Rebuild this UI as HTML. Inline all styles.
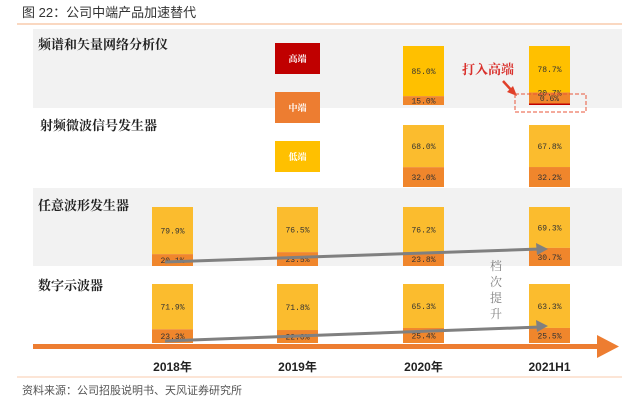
<!DOCTYPE html>
<html><head><meta charset="utf-8"><style>
html,body{margin:0;padding:0;background:#fff;}
svg{display:block;font-family:"Liberation Sans","Noto Sans CJK SC",sans-serif;}
</style></head><body>
<svg id="chart" width="622" height="409" viewBox="0 0 622 409" xmlns="http://www.w3.org/2000/svg">
<text x="22" y="17" font-size="13" fill="#333">图 22：公司中端产品加速替代</text>
<line x1="17" y1="24" x2="622" y2="24" stroke="#f4b183" stroke-width="1"/>
<rect x="33" y="29" width="589" height="79" fill="#f2f2f2"/>
<rect x="33" y="188" width="589" height="78" fill="#f2f2f2"/>
<g id="labels" font-family="'Noto Serif CJK SC','Liberation Serif',serif" font-size="13" font-weight="bold" fill="#222">
<text x="38" y="49">频谱和矢量网络分析仪</text>
<text x="40" y="130">射频微波信号发生器</text>
<text x="38" y="210">任意波形发生器</text>
<text x="38" y="290">数字示波器</text>
</g>
<g font-family="'Noto Serif CJK SC',serif" font-size="9" font-weight="bold" fill="#fff">
<rect x="275" y="43" width="45" height="31" fill="#c00000"/>
<text x="297.5" y="62" text-anchor="middle">高端</text>
<rect x="275" y="92" width="45" height="31" fill="#ed7d31"/>
<text x="297.5" y="111" text-anchor="middle">中端</text>
<rect x="275" y="141" width="45" height="31" fill="#ffc000"/>
<text x="297.5" y="160" text-anchor="middle">低端</text>
</g>
<g id="bars"></g>
<g id="axis"></g>
<line x1="165" y1="262" x2="540" y2="249" stroke="#808080" stroke-width="3"/>
<polygon points="548,249 536,243 537,255" fill="#808080"/>
<line x1="165" y1="341" x2="540" y2="327" stroke="#808080" stroke-width="3"/>
<polygon points="548,326 536,320 537,332" fill="#808080"/>
<g font-family="'Noto Serif CJK SC',serif" font-size="12" fill="#808080">
<text x="496" y="270" text-anchor="middle">档</text>
<text x="496" y="286" text-anchor="middle">次</text>
<text x="496" y="302" text-anchor="middle">提</text>
<text x="496" y="318" text-anchor="middle">升</text>
</g>
<text x="462" y="74" font-family="'Noto Serif CJK SC',serif" font-size="13" font-weight="bold" fill="#d9302c">打入高端</text>
<line x1="503" y1="81" x2="513" y2="92" stroke="#e0402a" stroke-width="2.5"/>
<polygon points="517,96 507,92 513,86" fill="#e0402a"/>
<rect x="515" y="94" width="71" height="18" fill="none" stroke="#e8553a" stroke-width="1" stroke-dasharray="4,2"/>
<line x1="17" y1="377" x2="622" y2="377" stroke="#f8cbad" stroke-width="1"/>
<text x="22" y="394" font-size="11" fill="#555">资料来源：公司招股说明书、天风证券研究所</text>
</svg>
<script>
const years = ['2018年','2019年','2020年','2021H1'];
const rows = ['频谱和矢量网络分析仪','射频微波信号发生器','任意波形发生器','数字示波器'];
const lowShare = [[null,null,85.0,78.7],[null,null,68.0,67.8],[79.9,76.5,76.2,69.3],[71.9,71.8,65.3,63.3]];
const midShare = [[null,null,15.0,20.7],[null,null,32.0,32.2],[20.1,23.5,23.8,30.7],[23.3,22.0,25.4,25.5]];
const highShare = [[null,null,0,0.6],[null,null,0,0],[0,0,0,0],[0,0,0,0]];
const rowBottom=[105,187,266,343], rowH=[59,62,59,59];
function xBand(i){return [152,277,403,529][i];}
const barW=41;
const NS='http://www.w3.org/2000/svg';
const g=document.getElementById('bars');
function mk(tag,attrs){const e=document.createElementNS(NS,tag);for(const k in attrs)e.setAttribute(k,attrs[k]);return e;}
function yScale(r,v){return v/100*rowH[r];}
for(let r=0;r<rows.length;r++){
 for(let c=0;c<years.length;c++){
  if(lowShare[r][c]==null)continue;
  const x=xBand(c), total=lowShare[r][c]+midShare[r][c]+highShare[r][c];
  let y=rowBottom[r];
  const hH=yScale(r,highShare[r][c]), mH=yScale(r,midShare[r][c]), lH=rowBottom[r]-rowH[r]-(y-hH-mH);
  const lowCol=r===0?'#ffc000':'#fbbc2e';
  const low=mk('rect',{x:x,y:rowBottom[r]-rowH[r],width:barW,height:rowH[r]-hH-mH,fill:lowCol});
  
  
  g.appendChild(low);
  const mid=mk('rect',{x:x,y:y-hH-mH,width:barW,height:mH,fill:'#f0862c'});
  
  
  g.appendChild(mid);
  if(hH>0){
   const hi=mk('rect',{x:x,y:y-Math.max(hH,1.5),width:barW,height:Math.max(hH,1.5),fill:'#c00000'});
   
   
   g.appendChild(hi);
  }
  const fs={'font-size':'8','fill':'#333','text-anchor':'middle','font-family':'Liberation Mono,monospace'};
  const lt=mk('text',Object.assign({x:x+barW/2,y:(rowBottom[r]-rowH[r]+y-hH-mH)/2+3},fs));
  lt.textContent=lowShare[r][c].toFixed(1)+'%';
  
  
  g.appendChild(lt);
  let my=y-hH-mH/2+3;
  if(hH>0) my=y-hH-mH+3;
  const mt=mk('text',Object.assign({x:x+barW/2,y:my},fs));
  mt.textContent=midShare[r][c].toFixed(1)+'%';
  
  
  g.appendChild(mt);
  if(hH>0){
   const ht=mk('text',Object.assign({x:x+barW/2,y:y-4},fs));
   ht.textContent=highShare[r][c].toFixed(1)+'%';
   
   
   g.appendChild(ht);
  }
 }
}
const ax=document.getElementById('axis');
const line=mk('rect',{x:33,y:344,width:566,height:5,fill:'#ed7d31'});


ax.appendChild(line);
const head=mk('polygon',{points:'597,335 619,346.5 597,358',fill:'#ed7d31'});


ax.appendChild(head);
for(let c=0;c<years.length;c++){
 const t=mk('text',{x:xBand(c)+barW/2,y:371,'font-size':'12','font-weight':'bold','fill':'#222','text-anchor':'middle'});
 t.textContent=years[c];
 
 
 ax.appendChild(t);
}
</script>
</body></html>
